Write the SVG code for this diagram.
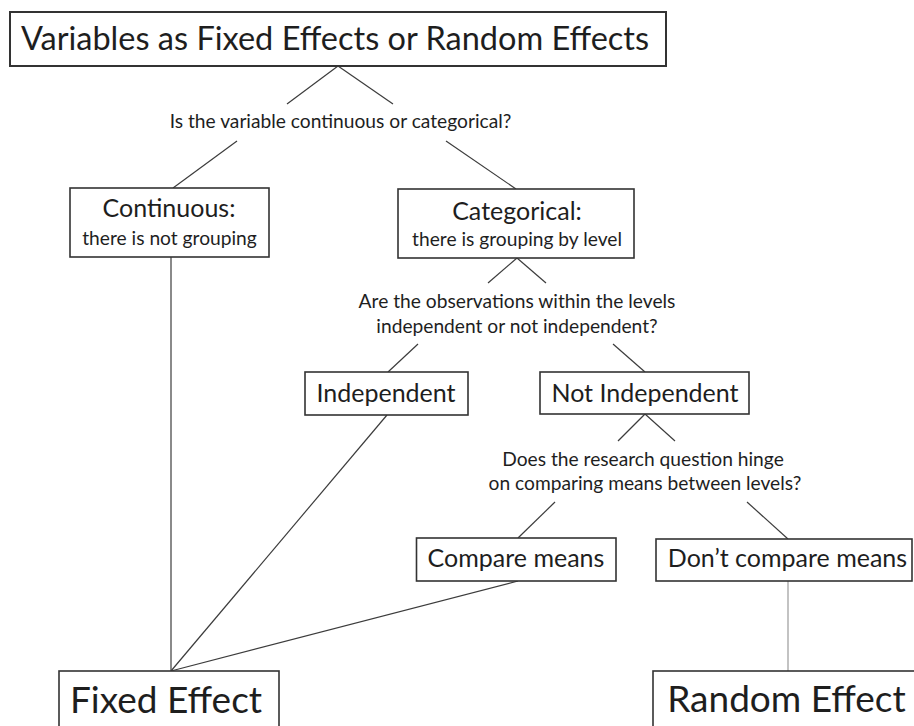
<svg xmlns="http://www.w3.org/2000/svg" width="914" height="726" viewBox="0 0 914 726">
<style>
  .box { fill: #ffffff; stroke: #333333; stroke-width: 1.6; }
  .t { font-family: Lato, "Open Sans", "Liberation Sans", sans-serif; fill: #1e1e1e; text-anchor: middle; }
  .title { font-size: 32.5px; }
  .big { font-size: 37px; }
  .main { font-size: 25px; }
  .small { font-size: 19.2px; }
  .conn line { stroke: #3c3c3c; stroke-width: 1.2; }
  .conn line.light { stroke: #aaaaaa; stroke-width: 1.4; }
</style>
<rect width="914" height="726" fill="#ffffff"/>
<g id="connectors" class="conn">
  <line x1="338" y1="66" x2="287" y2="104"/>
  <line x1="338" y1="66" x2="393" y2="104"/>
  <line x1="237" y1="141" x2="173" y2="188"/>
  <line x1="446" y1="141" x2="516" y2="189"/>
  <line x1="517" y1="258" x2="488" y2="283"/>
  <line x1="517" y1="258" x2="546" y2="283"/>
  <line x1="418" y1="344" x2="388" y2="372"/>
  <line x1="613" y1="344" x2="645" y2="372"/>
  <line x1="645" y1="414" x2="618" y2="441"/>
  <line x1="645" y1="414" x2="675" y2="441"/>
  <line x1="555" y1="502" x2="518" y2="538"/>
  <line x1="747" y1="502" x2="788" y2="539"/>
  <line x1="171" y1="257" x2="171" y2="671"/>
  <line x1="387" y1="415" x2="171" y2="671"/>
  <line x1="518" y1="581" x2="171" y2="671"/>
  <line class="light" x1="788" y1="581" x2="788" y2="671"/>
</g>
<g id="title">
  <rect class="box" x="10" y="12" width="656" height="54" style="stroke-width:2"/>
  <text class="t title" x="335" y="50">Variables as Fixed Effects or Random Effects</text>
</g>
<g id="q1">
  <text class="t small" x="340.5" y="128">Is the variable continuous or categorical?</text>
</g>
<g id="continuous">
  <rect class="box" x="70" y="188" width="199" height="69"/>
  <text class="t main" x="169" y="217">Continuous:</text>
  <text class="t small" x="169.5" y="245">there is not grouping</text>
</g>
<g id="categorical">
  <rect class="box" x="398" y="189" width="236" height="69"/>
  <text class="t main" x="517" y="220">Categorical:</text>
  <text class="t small" x="517" y="246">there is grouping by level</text>
</g>
<g id="q2">
  <text class="t small" x="517" y="308">Are the observations within the levels</text>
  <text class="t small" x="517" y="333">independent or not independent?</text>
</g>
<g id="independent">
  <rect class="box" x="305" y="372" width="163" height="43"/>
  <text class="t main" x="386" y="402">Independent</text>
</g>
<g id="not-independent">
  <rect class="box" x="540" y="372" width="209" height="42"/>
  <text class="t main" x="645" y="402">Not Independent</text>
</g>
<g id="q3">
  <text class="t small" x="643" y="466">Does the research question hinge</text>
  <text class="t small" x="645" y="490">on comparing means between levels?</text>
</g>
<g id="compare-means">
  <rect class="box" x="416.5" y="538" width="199.5" height="43"/>
  <text class="t main" x="516" y="567">Compare means</text>
</g>
<g id="dont-compare-means">
  <rect class="box" x="656" y="539" width="256" height="42"/>
  <text class="t main" x="787.5" y="567">Don’t compare means</text>
</g>
<g id="fixed-effect">
  <rect class="box" x="59" y="671" width="220" height="70"/>
  <text class="t big" x="166" y="713">Fixed Effect</text>
</g>
<g id="random-effect">
  <rect class="box" x="653" y="671" width="280" height="70"/>
  <text class="t big" x="786.5" y="712">Random Effect</text>
</g>
</svg>
